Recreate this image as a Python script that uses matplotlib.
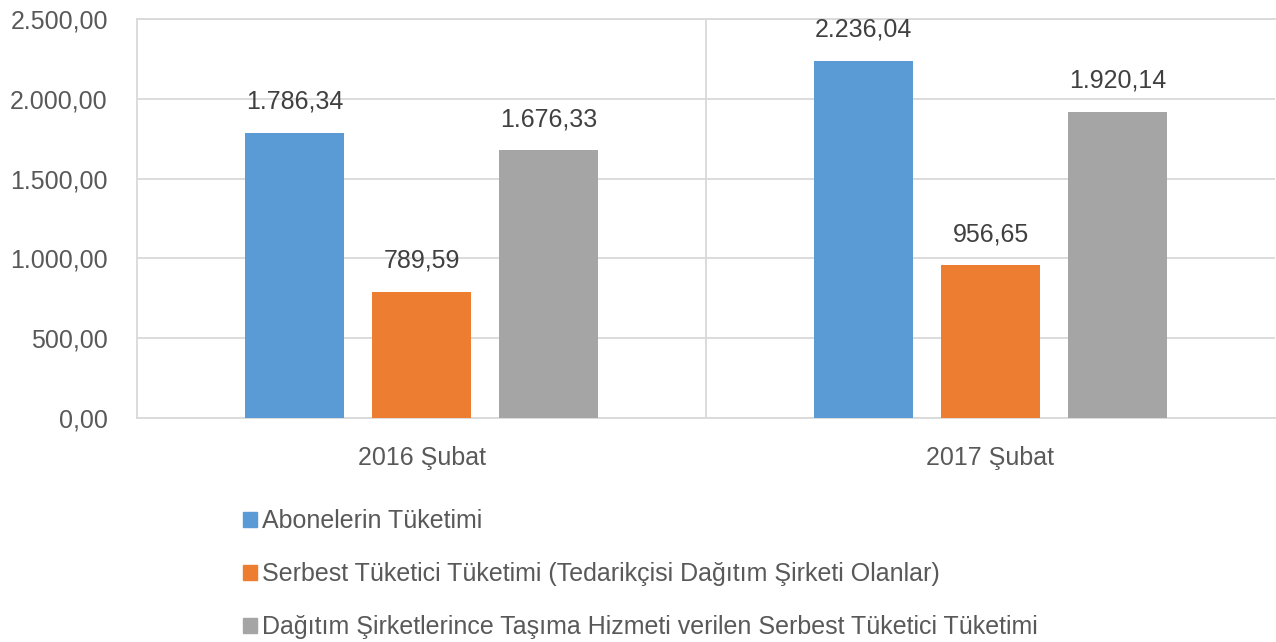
import matplotlib
matplotlib.use("Agg")
import matplotlib.pyplot as plt
from matplotlib.patches import Patch
from matplotlib.ticker import FuncFormatter

plt.rcParams['font.family'] = ['Liberation Sans', 'DejaVu Sans']

categories = ["2016 Şubat", "2017 Şubat"]
series_names = [
    "Abonelerin Tüketimi",
    "Serbest Tüketici Tüketimi (Tedarikçisi Dağıtım Şirketi Olanlar)",
    "Dağıtım Şirketlerince Taşıma Hizmeti verilen Serbest Tüketici Tüketimi",
]
abone = [1786.34, 2236.04]
serbest = [789.59, 956.65]
dagitim = [1676.33, 1920.14]
colors = ["#5B9BD5", "#ED7D31", "#A5A5A5"]

def tr_fmt(v, pos=None):
    s = f"{v:,.2f}"
    return s.replace(",", "X").replace(".", ",").replace("X", ".")

fig = plt.figure(figsize=(12.76, 6.42), dpi=100)
ax = fig.add_axes([137/1276, 1 - 418/642, (1275-137)/1276, (418-19)/642])

text_color = "#595959"
grid_color = "#D9D9D9"
width = 0.174
step = 0.223
for i, (vals, c) in enumerate(zip([abone, serbest, dagitim], colors)):
    xs = [k + (i - 1) * step for k in range(len(categories))]
    ax.bar(xs, vals, width=width, color=c, zorder=3)
    for x, v in zip(xs, vals):
        ax.text(x, v + 120, tr_fmt(v), ha="center", va="bottom",
                fontsize=18, color="#404040")

ax.set_xlim(-0.5, 1.5)
ax.set_ylim(0, 2500)
ax.set_yticks(range(0, 2501, 500))
ax.yaxis.set_major_formatter(FuncFormatter(tr_fmt))
ax.set_xticks(range(len(categories)))
ax.set_xticklabels(categories)
ax.grid(axis="y", color=grid_color, linewidth=1.3, zorder=0)
ax.axvline(0.5, color=grid_color, linewidth=1.3, zorder=0)
for sp in ax.spines.values():
    sp.set_color(grid_color)
    sp.set_linewidth(1.3)
ax.spines["right"].set_visible(False)
ax.tick_params(axis="both", length=0, labelsize=18, colors=text_color)
ax.tick_params(axis="y", pad=21)
ax.tick_params(axis="x", pad=20)

handles = [Patch(color=c) for c in colors]
fig.legend(handles, series_names, loc="upper left", bbox_to_anchor=(221/1276, 1 - 487/642),
           frameon=False, fontsize=18, labelcolor=text_color, handlelength=0.55,
           handleheight=0.55, handletextpad=0.2, labelspacing=1.15)

fig.savefig("out.png", dpi=100)
